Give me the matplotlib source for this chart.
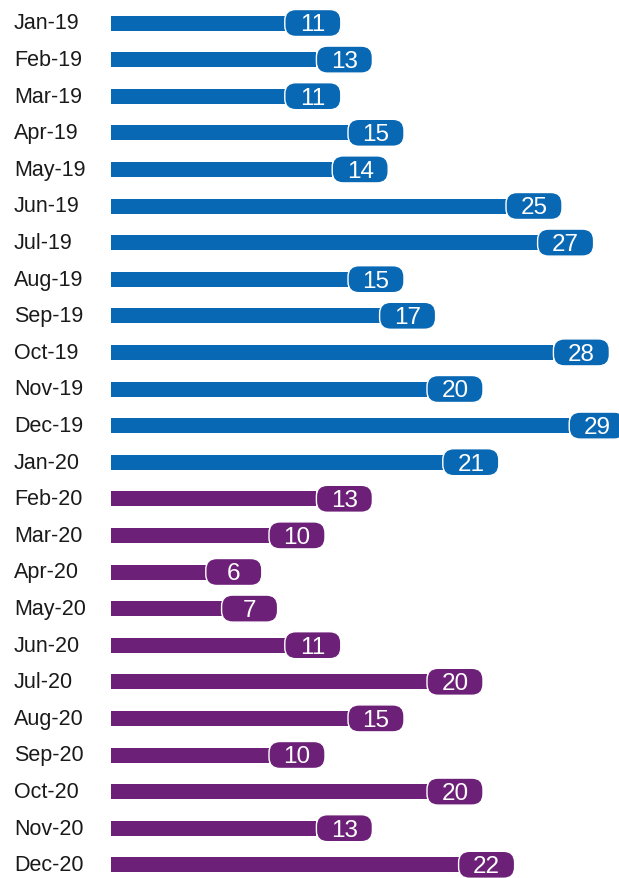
import matplotlib

matplotlib.use("Agg")
import matplotlib.pyplot as plt
from matplotlib.patches import FancyBboxPatch

months = [
    "Jan-19", "Feb-19", "Mar-19", "Apr-19", "May-19", "Jun-19", "Jul-19",
    "Aug-19", "Sep-19", "Oct-19", "Nov-19", "Dec-19", "Jan-20",
    "Feb-20", "Mar-20", "Apr-20", "May-20", "Jun-20", "Jul-20", "Aug-20",
    "Sep-20", "Oct-20", "Nov-20", "Dec-20",
]
values = [11, 13, 11, 15, 14, 25, 27, 15, 17, 28, 20, 29, 21,
          13, 10, 6, 7, 11, 20, 15, 10, 20, 13, 22]
n_2019 = 13  # Jan-19 .. Jan-20 in blue, rest purple

BLUE = "#0868b4"
PURPLE = "#6d2077"
colors = [BLUE if i < n_2019 else PURPLE for i in range(len(values))]

W, H = 619, 879
px_x = 15.8   # pixels per unit
px_y = 36.6   # pixels per row
x0, y0 = 111, 24

fig = plt.figure(figsize=(W / 100, H / 100), dpi=100)
ax = fig.add_axes([0, 0, 1, 1])
ax.set_xlim(-x0 / px_x, (W - x0) / px_x)
ax.set_ylim((len(values) - 1) + (H - y0 - (len(values) - 1) * px_y) / px_y, -y0 / px_y)
ax.axis("off")

rows = list(range(len(values)))
ax.barh(rows, values, height=15 / px_y, left=0, color=colors)

badge_w = 56 / px_x
badge_h = 27 / px_y
for i, (v, c) in enumerate(zip(values, colors)):
    box = FancyBboxPatch(
        (v, i - badge_h / 2), badge_w, badge_h,
        boxstyle=f"round,pad=0,rounding_size={11 / px_x}",
        mutation_aspect=px_x / px_y,
        facecolor=c, edgecolor="white", linewidth=1.0, zorder=3,
    )
    ax.add_patch(box)
    ax.text(v + badge_w / 2, i + 0.04, str(v), color="white", fontsize=17.5,
            family="Liberation Sans", ha="center", va="center", zorder=4)
    ax.text(-97 / px_x, i + 0.0, months[i], color="#1a1a1a", fontsize=15.5,
            family="Liberation Sans", ha="left", va="center")

fig.savefig("out.png", dpi=100)
plt.close(fig)
